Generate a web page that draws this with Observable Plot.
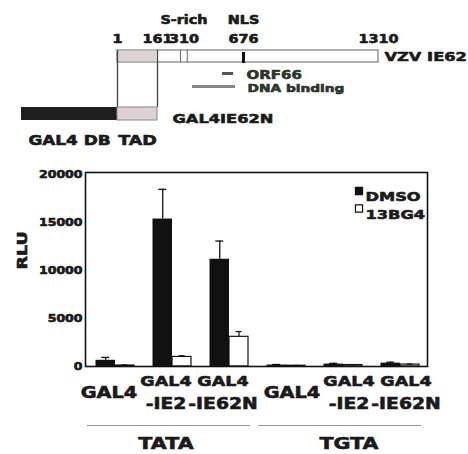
<!DOCTYPE html>
<html>
<head>
<meta charset="utf-8">
<script src="https://cdn.jsdelivr.net/npm/d3@7"></script>
<script src="https://cdn.jsdelivr.net/npm/@observablehq/plot@0.6"></script>
<style>
  body { margin: 0; background: #fff; }
  #fig { position: relative; width: 468px; height: 454px; overflow: hidden; background: #fff; }
  #fig svg { position: absolute; left: 0; display: block; }
</style>
</head>
<body>
<div id="fig"></div>
<script>
// ---------- VZV IE62 construct map (amino-acid coordinates) ----------
const ie62Marks = [1, 161, 310, 676, 1310];
const ie62Length = [1, 1310];
const tadRange = [1, 161];
const gal4DbRange = [-147, 1];
const sRichLines = [290, 330];
const nlsPos = [676];
const orf66Range = [547, 615];
const dnaBindingRange = [362, 627];

// ---------- luciferase reporter assay ----------
const promoters = ["TATA", "TATA", "TATA", "TGTA", "TGTA", "TGTA"];
const constructs = ["GAL4", "GAL4-IE2", "GAL4-IE62N", "GAL4", "GAL4-IE2", "GAL4-IE62N"];
const dmso = [650, 15400, 11200, 150, 250, 350];
const dmsoErr = [300, 3100, 1900, 60, 80, 100];
const bg4 = [100, 1000, 3100, 80, 150, 200];
const bg4Err = [60, 120, 550, 30, 40, 50];
const series = ["DMSO", "13BG4"];
const yTicks = [0, 5000, 10000, 15000, 20000];

const ink = "#1a1a1a";
const font = "'DejaVu Sans', sans-serif";
const baseStyle = {fontFamily: font, fontWeight: "bold", fontSize: "10px", color: ink, background: "transparent"};

// heavy, wide lettering: stretch every label horizontally and thicken its strokes
function widen(svg, k, weight) {
  for (const t of svg.querySelectorAll("text")) {
    const fill = getComputedStyle(t).fill;
    t.style.stroke = fill;
    t.style.strokeWidth = weight;
    t.style.strokeLinejoin = "round";
    const parts = t.querySelectorAll("tspan");
    for (const el of (parts.length ? parts : [t])) {
      const w = el.getComputedTextLength();
      if (w > 0) {
        el.setAttribute("textLength", (w * k).toFixed(1));
        el.setAttribute("lengthAdjust", "spacingAndGlyphs");
      }
    }
  }
}

const fig = document.getElementById("fig");

// ---------- schematic ----------
const L = {label: 20, number: 39, barTop: 50, barBottom: 62, orf66: 73, dna: 86,
           constructTop: 107, constructBottom: 120, constructLabel: 140};
const shade = "#ddd3d3";

const map = Plot.plot({
  width: 468, height: 160, margin: 0,
  x: {type: "linear", domain: [-147, 1, 161, 310, 676, 1310], range: [21, 117, 157, 183.5, 243, 378], axis: null},
  y: {type: "identity", axis: null},
  style: baseStyle,
  marks: [
    Plot.rect([ie62Length], {x1: d => d[0], x2: d => d[1], y1: L.barTop, y2: L.barBottom, fill: "white", stroke: "#7a7a7a", strokeWidth: 1.2}),
    Plot.rect([tadRange], {x1: d => d[0], x2: d => d[1], y1: L.barTop, y2: L.barBottom, fill: shade, inset: 0.7}),
    Plot.ruleX(sRichLines, {x: d => d, y1: L.barTop, y2: L.barBottom, stroke: "#666", strokeWidth: 1}),
    Plot.ruleX(nlsPos, {x: d => d, y1: L.barTop + 2, y2: L.barBottom + 1, stroke: "#111", strokeWidth: 3}),
    Plot.ruleX(tadRange, {x: d => d, y1: L.barTop, y2: L.constructTop, stroke: "#444", strokeWidth: 1.3}),
    Plot.rect([gal4DbRange], {x1: d => d[0], x2: d => d[1], y1: L.constructTop, y2: L.constructBottom, fill: "#1e1e1e"}),
    Plot.rect([tadRange], {x1: d => d[0], x2: d => d[1], y1: L.constructTop, y2: L.constructBottom, fill: shade, stroke: "#888", strokeWidth: 1}),
    Plot.ruleY([orf66Range], {x1: d => d[0], x2: d => d[1], y: L.orf66, stroke: "#555", strokeWidth: 3}),
    Plot.ruleY([dnaBindingRange], {x1: d => d[0], x2: d => d[1], y: L.dna, stroke: "#888", strokeWidth: 3}),
    Plot.text(ie62Marks, {x: d => d, y: L.number, text: d => String(d), fontSize: 11.5, fill: ink}),
    Plot.text([["S-rich", d3.mean(sRichLines)], ["NLS", nlsPos[0]]], {x: d => d[1], y: L.label, text: d => d[0], fontSize: 11.5, fill: ink}),
    Plot.text([orf66Range], {x: d => d[1], y: L.orf66 + 1.5, text: () => "ORF66", textAnchor: "start", dx: 13, fontSize: 12, fill: "#2b352b"}),
    Plot.text([dnaBindingRange], {x: d => d[1], y: L.dna + 2, text: () => "DNA binding", textAnchor: "start", dx: 12, fontSize: 11, fill: "#2b352b"}),
    Plot.text([ie62Length], {x: d => d[1], y: (L.barTop + L.barBottom) / 2, text: () => "VZV IE62", textAnchor: "start", dx: 6, fontSize: 13, fill: ink}),
    Plot.text([tadRange], {x: d => d[1], y: L.constructBottom - 2, text: () => "GAL4IE62N", textAnchor: "start", dx: 15, fontSize: 13, fill: ink}),
    Plot.text([gal4DbRange], {x: d => d3.mean(d), y: L.constructLabel, text: () => "GAL4 DB", fontSize: 13.5, fill: ink}),
    Plot.text([tadRange], {x: d => d3.mean(d), y: L.constructLabel, text: () => "TAD", fontSize: 14, fill: ink})
  ]
});
map.style.top = "0px";
fig.appendChild(map);
widen(map, 1.25, 0.6);

// ---------- bar chart ----------
const rows = promoters.map((p, i) => ({
  key: p + " " + constructs[i], promoter: p, construct: constructs[i]
}));
const bars = rows.flatMap((r, i) => [
  {key: r.key, series: series[0], value: dmso[i], err: dmsoErr[i]},
  {key: r.key, series: series[1], value: bg4[i], err: bg4Err[i]}
]);
const dmsoBars = bars.filter(d => d.series === series[0]);
const bg4Bars = bars.filter(d => d.series === series[1]);
const spans = Array.from(d3.group(rows, d => d.promoter), ([promoter, rs]) => ({
  promoter, first: rs[0].key, mid: rs[Math.floor(rs.length / 2)].key, last: rs[rs.length - 1].key
}));
const promoterShift = {TATA: -5, TGTA: 7};

const labelMarks = spans.flatMap(s => {
  const dx = promoterShift[s.promoter];
  const mine = d => d.promoter === s.promoter;
  return [
    Plot.text(rows, {filter: d => mine(d) && !d.construct.includes("-"), x: "key", text: "construct",
      frameAnchor: "bottom", dy: 31, dx, fontSize: 15.5, fill: ink}),
    Plot.text(rows, {filter: d => mine(d) && d.construct.includes("-"), x: "key", text: d => d.construct.split("-")[0],
      frameAnchor: "bottom", dy: 19, dx, fontSize: 14, fill: ink}),
    Plot.text(rows, {filter: d => mine(d) && d.construct.includes("-"), x: "key", text: d => "-" + d.construct.split("-")[1],
      frameAnchor: "bottom", dy: 42, dx, fontSize: 15, fill: ink}),
    Plot.text([s], {x: "mid", text: "promoter", frameAnchor: "bottom", dy: 82, dx, fontSize: 16.5, fill: ink})
  ];
});

const chart = Plot.plot({
  width: 468, height: 294,
  marginTop: 12, marginBottom: 88, marginLeft: 85, marginRight: 41,
  x: {type: "band", domain: rows.map(d => d.key), padding: 0, axis: null},
  y: {domain: [0, 20260], ticks: yTicks, tickFormat: d => String(d), tickSize: 0, tickPadding: 3, label: null},
  style: baseStyle,
  marks: [
    Plot.barY(dmsoBars, {x: "key", y: "value", fill: "#111", insetLeft: 9, insetRight: 28.5, dx: 1.5}),
    Plot.barY(bg4Bars, {x: "key", y: "value", fill: "white", stroke: "#111", strokeWidth: 1.2, insetLeft: 28.5, insetRight: 9.5, dx: 1.5}),
    Plot.ruleX(dmsoBars, {x: "key", y1: "value", y2: d => d.value + d.err, dx: -8.25, stroke: "#111", strokeWidth: 1.3}),
    Plot.tickY(dmsoBars, {x: "key", y: d => d.value + d.err, insetLeft: 16.25, insetRight: 32.75, stroke: "#111", strokeWidth: 1.3}),
    Plot.ruleX(bg4Bars, {x: "key", y1: "value", y2: d => d.value + d.err, dx: 11, stroke: "#111", strokeWidth: 1.2}),
    Plot.tickY(bg4Bars, {x: "key", y: d => d.value + d.err, insetLeft: 36.5, insetRight: 14.5, stroke: "#111", strokeWidth: 1.2}),
    Plot.frame({stroke: "#111", strokeWidth: 1.6}),
    // legend
    ...series.map((s, i) => Plot.dot([s], {frameAnchor: "top-right", dx: -68.5, dy: 18.5 + i * 17.5,
      symbol: "square", r: 4, fill: i ? "white" : "#111", stroke: "#111", strokeWidth: 1.2})),
    ...series.map((s, i) => Plot.text([s], {frameAnchor: "top-right", dx: -62, dy: 19.7 + i * 17.3,
      text: d => d, textAnchor: "start", fontSize: 13, fill: ink})),
    Plot.text(["RLU"], {frameAnchor: "left", dx: -63, rotate: -90, text: d => d, fontSize: 14, fill: ink}),
    // promoter brackets
    Plot.ruleY(spans, {x1: "first", x2: "last", y: null, dy: 156, insetLeft: 2, insetRight: 6, stroke: "#999", strokeWidth: 1}),
    ...labelMarks
  ]
});
chart.style.top = "160px";
fig.appendChild(chart);
widen(chart, 1.25, 0.6);
</script>
</body>
</html>
